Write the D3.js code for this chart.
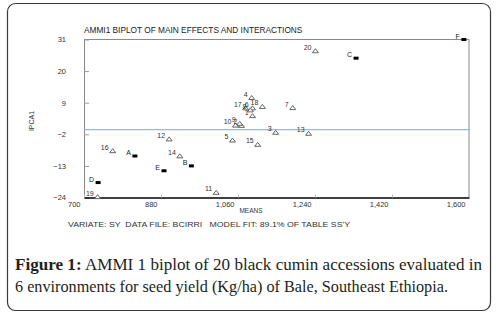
<!DOCTYPE html>
<html>
<head>
<meta charset="utf-8">
<script src="https://cdn.jsdelivr.net/npm/d3@7"></script>
<style>
  body { margin: 0; background: #fff; }
  svg text { font-family: "Liberation Sans", Arial, sans-serif; }
</style>
</head>
<body>
<div id="chart"></div>
<script>
// Genotypes (open triangles)
const genoLabels = ["1","2","3","4","5","6","7","8","9","10","11","12","13","14","15","16","17","18","19","20"];
const genoMeans  = [1094, 1068, 1148, 1092, 1047, 1094, 1188, 1089, 1064, 1054, 1009, 899, 1225, 924, 1106, 767, 1078, 1117, 732, 1241];
const genoIPCA   = [4.5, 1.1, -1.3, 10.8, -4.0, 7.2, 7.3, 6.5, 1.8, 1.2, -22.2, -3.6, -1.65, -9.5, -5.5, -7.7, 7.2, 7.7, -23.7, 27.1];

// Environments (filled markers)
const envLabels = ["A","B","C","D","E","F"];
const envMeans  = [819, 951, 1336, 733, 887, 1588];
const envIPCA   = [-9.55, -13.0, 24.5, -18.8, -14.7, 31.0];

// Axis ticks
const xTicks = [700, 880, 1060, 1240, 1420, 1600];
const yTicks = [31, 20, 9, -2, -13, -24];
const refLine = -0.4;

const W = 496, H = 314;
const plot = { left: 84, right: 469, top: 39.5, bottom: 197.5 };

const svg = d3.select("#chart")
    .append("svg")
    .attr("width", W)
    .attr("height", H);

// outer rounded frame
svg.append("rect")
    .attr("x", 7.5).attr("y", 3.5)
    .attr("width", 483).attr("height", 307)
    .attr("rx", 8).attr("ry", 8)
    .attr("fill", "none")
    .attr("stroke", "#3a3a3a")
    .attr("stroke-width", 1.2);

const x = d3.scaleLinear().domain([700, 1600]).range([plot.left, plot.right]);
const y = d3.scaleLinear().domain([-24, 31]).range([plot.bottom, plot.top]);

// top and right frame lines
svg.append("path")
    .attr("d", `M${plot.left},${plot.top}H${plot.right}V${plot.bottom}`)
    .attr("fill", "none")
    .attr("stroke", "#8a8a8a")
    .attr("stroke-width", 1);

// Y axis
const yAxis = svg.append("g")
    .attr("transform", `translate(${plot.left},0)`)
    .call(d3.axisLeft(y).tickValues(yTicks).tickSizeInner(-5).tickSizeOuter(0).tickPadding(18));
yAxis.select(".domain").attr("stroke", "#8a8a8a");
yAxis.selectAll(".tick line").attr("stroke", "#9a9a9a");
yAxis.selectAll("text")
    .attr("font-size", 7.5)
    .attr("fill", "#333")
    .style("font-family", "Liberation Sans, Arial, sans-serif");

// reference line
svg.append("line")
    .attr("x1", plot.left).attr("x2", plot.right)
    .attr("y1", y(refLine)).attr("y2", y(refLine))
    .attr("stroke", "#7fa6d6")
    .attr("stroke-width", 1);

// X axis
const xAxis = svg.append("g")
    .attr("transform", `translate(0,${plot.bottom})`)
    .call(d3.axisBottom(x).tickValues(xTicks).tickSizeInner(-3).tickSizeOuter(0)
        .tickFormat(d3.format(",")));
xAxis.select(".domain").attr("stroke", "#000").attr("stroke-width", 1.6);
xAxis.selectAll(".tick line").attr("stroke", "#bbb");
xAxis.selectAll("text")
    .attr("font-size", 7.5)
    .attr("fill", "#333")
    .attr("text-anchor", "end")
    .attr("x", -4)
    .attr("y", 4.5)
    .attr("dy", "0.71em")
    .style("font-family", "Liberation Sans, Arial, sans-serif");

// genotype markers
const tri = "M-3,2L3,2L0,-2Z";
svg.selectAll(".geno")
    .data(genoLabels)
    .enter()
    .append("path")
    .attr("class", "geno")
    .attr("d", tri)
    .attr("transform", (d, i) => `translate(${x(genoMeans[i])},${y(genoIPCA[i])})`)
    .attr("fill", "#fff")
    .attr("stroke", "#555")
    .attr("stroke-width", 0.9);

svg.selectAll(".genoLab")
    .data(genoLabels)
    .enter()
    .append("text")
    .attr("x", (d, i) => x(genoMeans[i]) - 4)
    .attr("y", (d, i) => y(genoIPCA[i]) - 1)
    .attr("text-anchor", "end")
    .attr("font-size", 7)
    .attr("fill", "#333")
    .text(d => d);

// environment markers
svg.selectAll(".env")
    .data(envLabels)
    .enter()
    .append("rect")
    .attr("x", (d, i) => x(envMeans[i]) - 2.5)
    .attr("y", (d, i) => y(envIPCA[i]) - 1.5)
    .attr("width", 5)
    .attr("height", 3)
    .attr("fill", "#000");

svg.selectAll(".envLab")
    .data(envLabels)
    .enter()
    .append("text")
    .attr("x", (d, i) => x(envMeans[i]) - 4)
    .attr("y", (d, i) => y(envIPCA[i]) - 1)
    .attr("text-anchor", "end")
    .attr("font-size", 7)
    .attr("fill", "#222")
    .text(d => d);

// titles
svg.append("text")
    .attr("x", plot.left).attr("y", 33)
    .attr("font-size", 8.3)
    .attr("fill", "#222")
    .text("AMMI1 BIPLOT OF MAIN EFFECTS AND INTERACTIONS");

svg.append("text")
    .attr("transform", `translate(34,121) rotate(-90)`)
    .attr("text-anchor", "middle")
    .attr("font-size", 7)
    .attr("fill", "#333")
    .text("IPCA1");

svg.append("text")
    .attr("x", 251).attr("y", 212.5)
    .attr("text-anchor", "middle")
    .attr("font-size", 6.5)
    .attr("fill", "#333")
    .text("MEANS");

svg.append("text")
    .attr("x", 68).attr("y", 226.5)
    .attr("font-size", 8)
    .attr("fill", "#333")
    .attr("textLength", 282)
    .attr("lengthAdjust", "spacingAndGlyphs")
    .style("white-space", "pre")
    .text("VARIATE: SY  DATA FILE: BCIRRI   MODEL FIT: 89.1% OF TABLE SS'Y");

// caption
const cap1 = svg.append("text")
    .attr("x", 15).attr("y", 270)
    .attr("font-size", 17)
    .attr("fill", "#231f20")
    .attr("textLength", 467)
    .attr("lengthAdjust", "spacingAndGlyphs")
    .style("font-family", "Liberation Serif, 'DejaVu Serif', serif");
cap1.append("tspan").attr("font-weight", "bold").text("Figure 1:");
cap1.append("tspan").text(" AMMI 1 biplot of 20 black cumin accessions evaluated in");

svg.append("text")
    .attr("x", 15).attr("y", 292)
    .attr("font-size", 17)
    .attr("fill", "#231f20")
    .attr("textLength", 433)
    .attr("lengthAdjust", "spacingAndGlyphs")
    .style("font-family", "Liberation Serif, 'DejaVu Serif', serif")
    .text("6 environments for seed yield (Kg/ha) of Bale, Southeast Ethiopia.");
</script>
</body>
</html>
